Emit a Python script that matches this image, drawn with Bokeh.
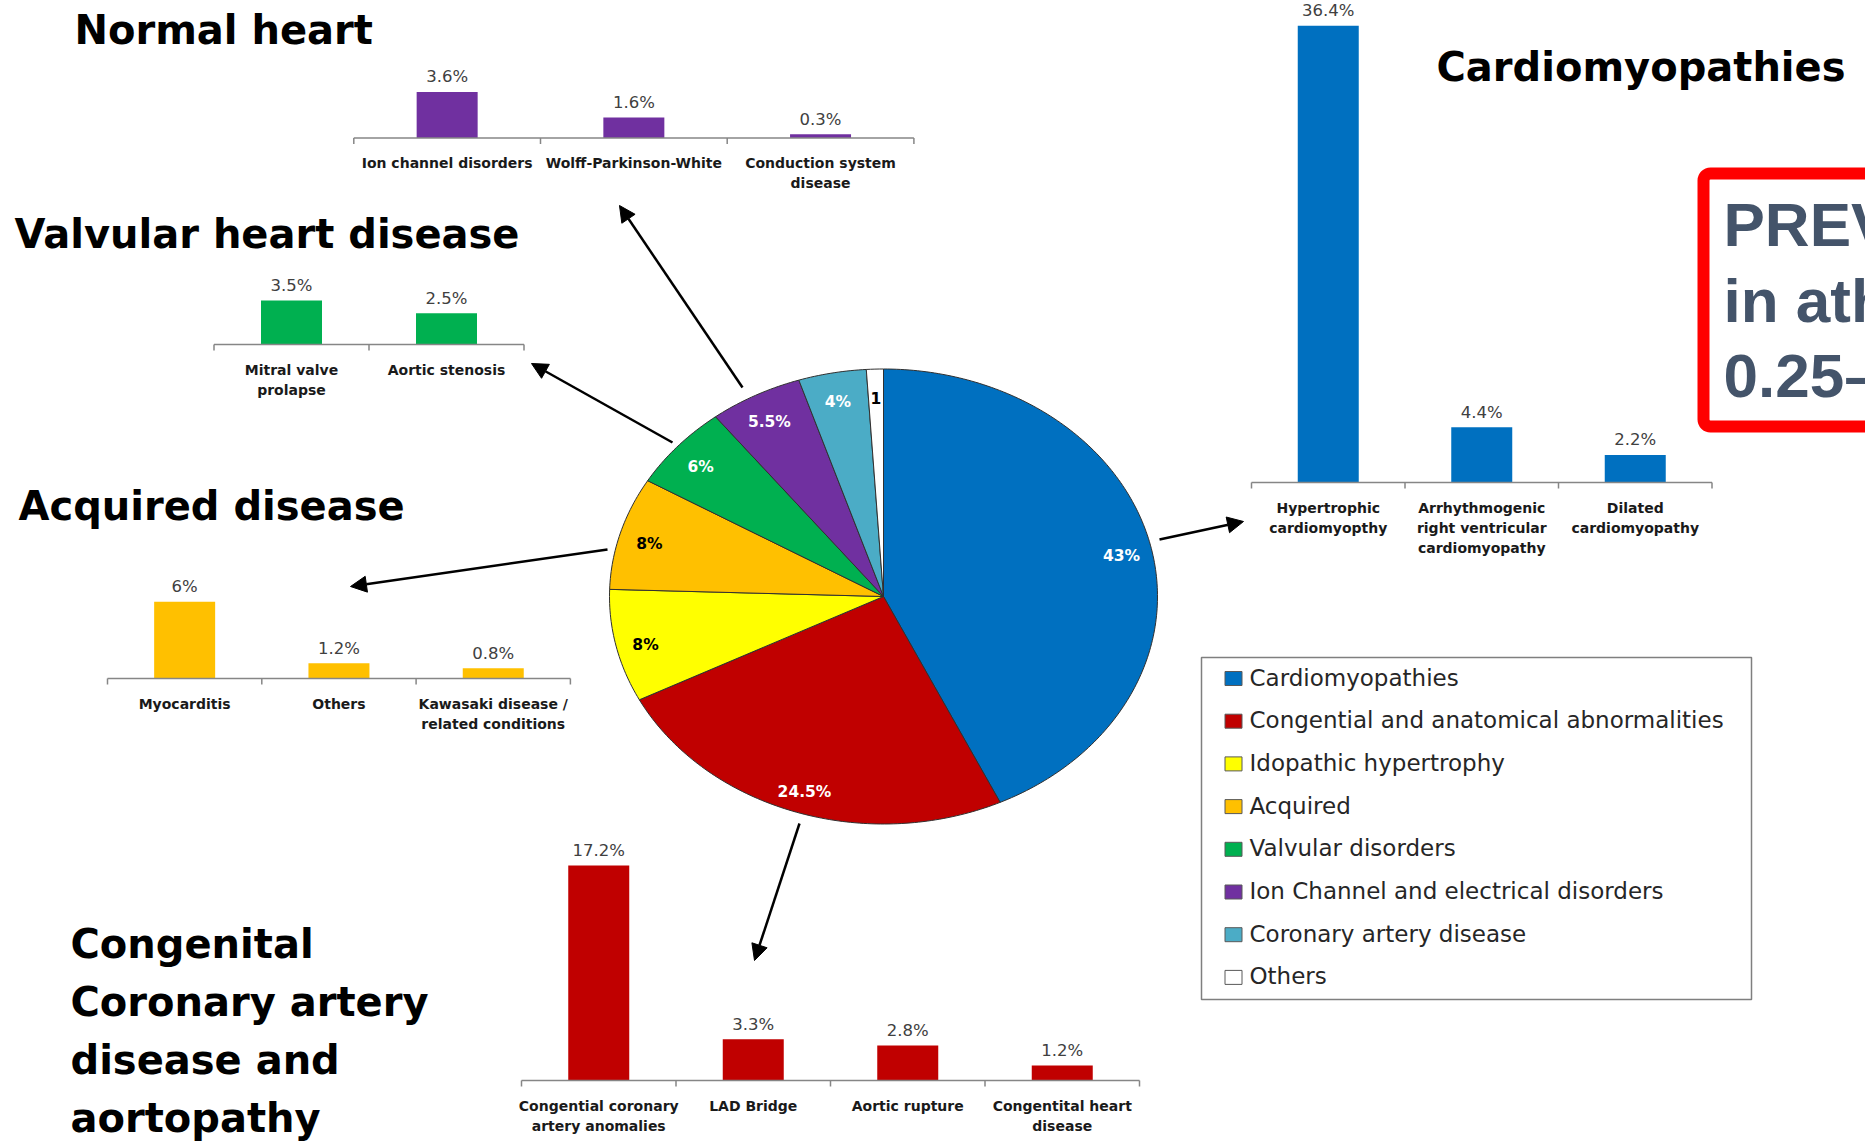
import numpy as np
from bokeh.plotting import figure
from bokeh.models import Range1d, Arrow, NormalHead, BoxAnnotation, ColumnDataSource
from bokeh.core.properties import value
from bokeh.embed import file_html
from bokeh.resources import INLINE

W, H = 1865, 1142

# ---------------- data ----------------
pie_labels = ["Cardiomyopathies", "Congential and anatomical abnormalities",
              "Idopathic hypertrophy", "Acquired", "Valvular disorders",
              "Ion Channel and electrical disorders", "Coronary artery disease", "Others"]
pie_values = [43, 24.5, 8, 8, 6, 5.5, 4, 1]
pie_value_text = ["43%", "24.5%", "8%", "8%", "6%", "5.5%", "4%", "1"]
pie_colors = ["#0070C0", "#C00000", "#FFFF00", "#FFC000", "#00B050", "#7030A0", "#4BACC6", "#FFFFFF"]
pie_text_colors = ["white", "white", "black", "black", "white", "white", "white", "black"]

normal_cats = ["Ion channel disorders", "Wolff-Parkinson-White", "Conduction system\ndisease"]
normal_vals = [3.6, 1.6, 0.3]

valv_cats = ["Mitral valve\nprolapse", "Aortic stenosis"]
valv_vals = [3.5, 2.5]

acq_cats = ["Myocarditis", "Others", "Kawasaki disease /\nrelated conditions"]
acq_vals = [6, 1.2, 0.8]

cong_cats = ["Congential coronary\nartery anomalies", "LAD Bridge", "Aortic rupture",
             "Congentital heart\ndisease"]
cong_vals = [17.2, 3.3, 2.8, 1.2]

cardio_cats = ["Hypertrophic\ncardiomyopthy", "Arrhythmogenic\nright ventricular\ncardiomyopathy",
               "Dilated\ncardiomyopathy"]
cardio_vals = [36.4, 4.4, 2.2]

congenital_title = ["Congenital", "Coronary artery", "disease and", "aortopathy"]
box_text = ["PREV", "in ath", "0.25\u2013"]

# ---------------- figure ----------------
p = figure(width=W, height=H, x_range=Range1d(0, W), y_range=Range1d(H, 0),
           x_axis_location=None, y_axis_location=None,
           output_backend="svg", toolbar_location=None, min_border=0,
           outline_line_color=None, background_fill_color="white",
           border_fill_color="white")
p.xgrid.visible = False
p.ygrid.visible = False

TITLE_FONT = value("DejaVu Sans")
AXIS_COLOR = "#868686"


def bar_chart(name, cats, vals, color, x0, cw, base, scale):
    n = len(cats)
    xr, yr = name + "_x", name + "_y"
    p.extra_x_ranges[xr] = Range1d(start=-x0 / cw, end=(W - x0) / cw)
    p.extra_y_ranges[yr] = Range1d(start=(base - H) / scale, end=base / scale)
    src = ColumnDataSource(dict(x=[i + 0.5 for i in range(n)], top=vals,
                                lab=[f"{v:g}%" for v in vals], cat=cats))
    p.vbar(x="x", top="top", bottom=0, width=61 / cw, fill_color=color, line_color=None,
           source=src, x_range_name=xr, y_range_name=yr)
    p.segment(x0=[0], y0=[0], x1=[n], y1=[0], line_color=AXIS_COLOR, line_width=1.5,
              x_range_name=xr, y_range_name=yr)
    tk = list(range(n + 1))
    p.segment(x0=tk, y0=[0] * (n + 1), x1=tk, y1=[-6 / scale] * (n + 1),
              line_color=AXIS_COLOR, line_width=1.5, x_range_name=xr, y_range_name=yr)
    p.text(x="x", y="top", text="lab", source=src, y_offset=-15, text_align="center",
           text_baseline="alphabetic", text_font=value("DejaVu Sans"), text_font_size="16.5px",
           text_color="#404040", x_range_name=xr, y_range_name=yr)
    p.text(x="x", y=0, text="cat", source=src, y_offset=17, text_align="center",
           text_baseline="top", text_font=value("DejaVu Sans"), text_font_style="bold",
           text_font_size="14px", text_color="#1a1a1a", text_line_height=1.25,
           x_range_name=xr, y_range_name=yr)


bar_chart("normal", normal_cats, normal_vals, "#7030A0", 353.3, 186.7, 137.5, 12.8)
bar_chart("valv", valv_cats, valv_vals, "#00B050", 213.5, 155.0, 344, 12.55)
bar_chart("acq", acq_cats, acq_vals, "#FFC000", 107, 154.3, 678, 12.8)
bar_chart("cong", cong_cats, cong_vals, "#C00000", 521, 154.5, 1080, 12.5)
bar_chart("cardio", cardio_cats, cardio_vals, "#0070C0", 1251, 153.5, 482, 12.55)

# ---------------- pie (elliptical, via its own ranges) ----------------
cx, cy, rx, ry = 883, 596, 274, 227.5
p.extra_x_ranges["pie_x"] = Range1d(start=-cx / rx, end=(W - cx) / rx)
p.extra_y_ranges["pie_y"] = Range1d(start=(cy - H) / ry, end=cy / ry)
cum = np.cumsum([0] + pie_values) / sum(pie_values) * 2 * np.pi
xs, ys = [], []
for a0, a1 in zip(cum[:-1], cum[1:]):
    t = np.linspace(a0, a1, max(4, int((a1 - a0) / (2 * np.pi) * 400) + 2))
    xs.append([0.0] + list(np.sin(t)))
    ys.append([0.0] + list(np.cos(t)))
pie_src = ColumnDataSource(dict(xs=xs, ys=ys, color=pie_colors))
p.patches("xs", "ys", source=pie_src, fill_color="color", line_color="#303030", line_width=1,
          x_range_name="pie_x", y_range_name="pie_y")
mid = (cum[:-1] + cum[1:]) / 2
lab_src = ColumnDataSource(dict(x=0.89 * np.sin(mid), y=0.89 * np.cos(mid),
                                t=pie_value_text, c=pie_text_colors))
p.text(x="x", y="y", text="t", text_color="c", source=lab_src, text_align="center",
       text_baseline="middle", y_offset=4, text_font=value("DejaVu Sans"),
       text_font_style="bold", text_font_size="15.5px",
       x_range_name="pie_x", y_range_name="pie_y")

# ---------------- titles ----------------
titles = [("Normal heart", 74, 29), ("Valvular heart disease", 14, 233),
          ("Acquired disease", 18, 505), ("Cardiomyopathies", 1436, 66)]
for i, line in enumerate(congenital_title):
    titles.append((line, 70, 943 + i * 58))
p.text(x=[t[1] for t in titles], y=[t[2] for t in titles], text=[t[0] for t in titles],
       text_baseline="alphabetic", text_align="left", text_font=TITLE_FONT,
       text_font_style="bold", text_font_size="40px", text_color="black")

# ---------------- arrows ----------------
arrows = [((742, 387), (619, 205)), ((672, 442), (531, 363)), ((607, 549), (350, 586)),
          ((799, 823), (754, 960)), ((1159, 539), (1243, 521))]
for (x0, y0), (x1, y1) in arrows:
    p.add_layout(Arrow(x_start=x0, y_start=y0, x_end=x1, y_end=y1, line_width=2.5,
                       line_color="black",
                       end=NormalHead(size=16, fill_color="black", line_color="black",
                                      line_width=1)))

# ---------------- legend ----------------
leg_y = [678 + i * 42.7 for i in range(len(pie_labels))]
p.quad(left=[1201], right=[1751], top=[657], bottom=[999], fill_color=None,
       line_color="#7F7F7F", line_width=1.5)
p.rect(x=[1233] * len(leg_y), y=leg_y, width=17, height=14, fill_color=pie_colors,
       line_color="#595959", line_width=1)
p.text(x=[1249] * len(leg_y), y=[y - 1 for y in leg_y], text=pie_labels,
       text_baseline="alphabetic", text_font=value("DejaVu Sans"), text_font_size="23px",
       text_color="#262626")

# ---------------- red box ----------------
p.add_layout(BoxAnnotation(left=1703, right=1960, top=173, bottom=426, fill_alpha=0,
                           line_color="#FF0000", line_width=12, line_alpha=1,
                           border_radius=7))
p.text(x=[1723] * 3, y=[224, 300, 375], text=box_text, text_baseline="alphabetic",
       text_font=value("Liberation Sans"), text_font_style="bold", text_font_size="62px",
       text_color="#44546A")

open("out.html", "w").write(file_html(p, INLINE))
